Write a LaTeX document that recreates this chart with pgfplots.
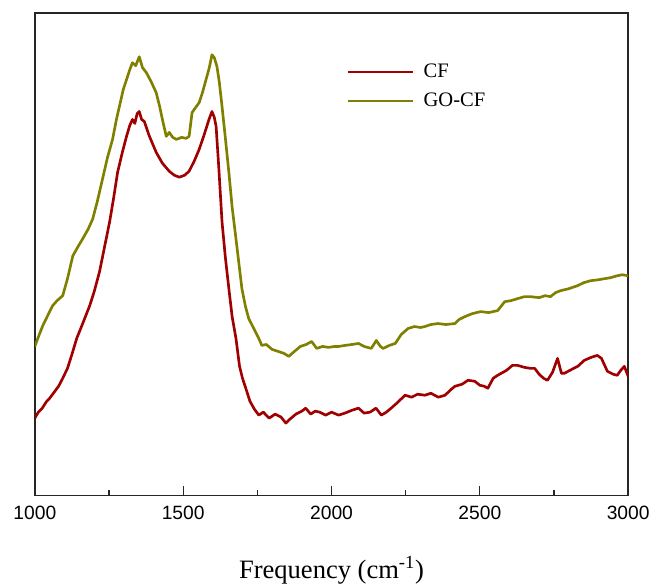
\documentclass[border=0pt]{standalone}
\usepackage{pgfplots}
\pgfplotsset{compat=1.18}
\usepackage{fontspec}
\setmainfont{Liberation Serif}
\newfontfamily\arialfont{Liberation Sans}
\definecolor{CFred}{RGB}{160,0,0}
\definecolor{GOolive}{RGB}{128,128,0}
\pgfplotstableread{
f y
1000 78
1012 84
1025 88
1040 95
1050 98
1065 104
1080 110
1094 118
1110 128
1125 142
1141 158
1160 172
1185 191
1200 205
1218 225
1235 250
1252 275
1265 298
1279 325
1295 345
1309 361
1320 372
1329 378
1337 374
1345 384
1352 386
1360 378
1369 376
1385 362
1409 345
1430 334
1453 326
1470 322
1487 320
1505 322
1520 326
1537 336
1554 348
1570 362
1587 378
1597 386
1605 380
1611 371
1620 330
1631 275
1642 240
1654 208
1665 180
1678 158
1690 130
1700 118
1711 108
1725 95
1740 87
1755 81
1770 84
1790 78
1810 82
1830 79
1846 73
1860 77
1880 82
1900 85
1913 88
1930 82
1945 85
1960 84
1980 81
2000 84
2024 81
2045 83
2070 86
2091 88
2110 83
2130 84
2150 88
2168 81
2185 84
2201 88
2220 93
2248 101
2270 99
2290 102
2315 101
2335 103
2360 99
2383 101
2400 106
2416 110
2440 112
2460 116
2483 115
2500 111
2515 110
2527 108
2545 118
2560 121
2590 126
2610 131
2627 131
2650 129
2670 128
2685 128
2700 122
2715 118
2728 116
2745 124
2762 138
2775 123
2785 123
2810 127
2830 130
2852 136
2875 139
2896 141
2910 138
2930 125
2950 122
2963 121
2975 126
2987 130
3000 120
}\cfdata
\pgfplotstableread{
f y
1000 150
1015 162
1027 171
1045 182
1060 191
1075 196
1094 201
1110 218
1128 241
1145 250
1161 258
1180 268
1195 278
1210 295
1228 318
1245 340
1262 358
1275 378
1285 391
1298 408
1309 418
1320 428
1329 435
1340 432
1352 441
1363 430
1376 425
1392 416
1409 405
1420 392
1430 378
1443 361
1453 365
1465 360
1477 358
1495 360
1510 359
1520 361
1530 385
1542 390
1554 395
1565 405
1577 418
1588 430
1597 443
1605 440
1614 431
1622 415
1631 391
1642 360
1654 325
1665 290
1678 258
1690 228
1698 208
1710 190
1721 178
1738 168
1755 158
1765 151
1780 152
1800 147
1820 145
1840 143
1856 140
1875 145
1895 150
1915 152
1933 155
1950 148
1970 150
1990 149
2010 150
2024 150
2045 151
2070 152
2091 153
2110 150
2134 148
2151 156
2165 150
2174 148
2195 151
2215 153
2235 162
2258 168
2280 170
2300 169
2315 170
2335 172
2359 173
2385 172
2416 173
2430 177
2450 180
2475 183
2503 185
2530 184
2560 186
2584 195
2605 196
2627 198
2650 200
2671 200
2700 199
2720 201
2738 200
2755 204
2772 206
2800 208
2829 211
2850 214
2873 216
2900 217
2919 218
2940 219
2963 221
2980 222
3000 221
}\gocfdata
\begin{document}
\begin{tikzpicture}
\begin{axis}[
  name=ax,
  scale only axis,
  width=447pt, height=363.75pt,
  xmin=1000, xmax=3000, ymin=0, ymax=485,
  axis line style={line width=1.1pt, black!85},
  xtick={1000,1500,2000,2500,3000},
  minor x tick num=1,
  xtick pos=bottom,
  ytick=\empty,
  tick align=inside,
  major tick length=7pt,
  minor tick length=4pt,
  every tick/.style={line width=0.9pt, black!85},
  /pgf/number format/assume math mode=true,
  /pgf/number format/1000 sep={},
  ticklabel style={font=\arialfont\fontsize{14.5}{16}\selectfont},
  xticklabel style={yshift=-4pt},
  xlabel={Frequency (cm\textsuperscript{-1})},
  xlabel style={font=\fontsize{20}{24}\selectfont, inner sep=0pt, yshift=-24pt},
  legend style={draw=none, fill=none, at={(rel axis cs:0.525,0.9)}, anchor=north west,
    font=\fontsize{15.5}{18}\selectfont, row sep=6pt, inner sep=0pt},
  legend cell align=left,
  legend image code/.code={\draw[#1, line width=2pt] (0pt,0pt) -- (48.75pt,0pt); \path (54pt,0pt);},
]
\addplot[CFred, line width=2pt, line join=round] table[x=f,y=y]{\cfdata};
\addlegendentry{CF}
\addplot[GOolive, line width=2pt, line join=round] table[x=f,y=y]{\gocfdata};
\addlegendentry{GO-CF}
\end{axis}
\path ([yshift=9.75pt]ax.north west);
\path ([xshift=-26.25pt, yshift=-67.5pt]ax.south west);
\end{tikzpicture}
\end{document}
